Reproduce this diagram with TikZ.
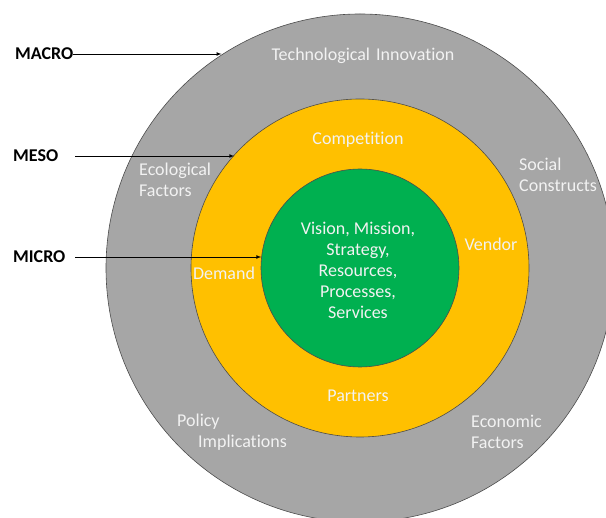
\documentclass[tikz,border=0pt]{standalone}
\usepackage{fontspec}
\setmainfont{Carlito}[Ligatures={NoCommon}]
\usetikzlibrary{shapes,arrows}
\usepackage{xcolor}
\definecolor{ringgray}{HTML}{A6A6A6}
\definecolor{ringgold}{HTML}{FFC000}
\definecolor{ringgreen}{HTML}{00B050}
\definecolor{softwhite}{HTML}{F2F2F2}

\begin{document}
\begin{tikzpicture}[x=1pt,y=-1pt,
					ring/.style={draw=black!70, line width=0.6pt, circle, inner sep=0pt},
					inlabel/.style={text=softwhite, font=\fontsize{18}{21}\selectfont, align=left, inner sep=0pt},
					level/.style={font=\fontsize{18}{21}\selectfont\bfseries, inner sep=0pt}]
    \useasboundingbox (0,0) rectangle (606,518);
    % Place rings
    \node [ring, fill=ringgray, minimum size=508pt] (macro) at (360,268){};
    \node [ring, fill=ringgold, minimum size=338pt] (meso) at (360,268){};
    \node [ring, fill=ringgreen, minimum size=198pt] (micro) at (360,268){};
    % Ring texts
    \node [inlabel] (techno) at (363,56){Technological~\hspace{2pt}Innovation};
    \node [inlabel, anchor=west] (ecolo) at (139,180){Ecological\\Factors};
    \node [inlabel, anchor=west] (social) at (519,175){Social\\Constructs};
    \node [inlabel, anchor=west] (policy) at (177,432){Policy\\\hspace*{21pt}Implications};
    \node [inlabel, anchor=west] (econ) at (471,432){Economic\\Factors};
    \node [inlabel] (compet) at (358,140){Competition};
    \node [inlabel] (vendor) at (491,244){Vendor};
    \node [inlabel] (demand) at (224,273){Demand};
    \node [inlabel] (partner) at (358,396){Partners};
    \node [inlabel, align=center] (core) at (358,270){Vision, Mission,\\Strategy,\\Resources,\\Processes,\\Services};
    % Level labels
    \node [level, anchor=west] (lmacro) at (15,54){MACRO};
    \node [level, anchor=west] (lmeso) at (13,156){MESO};
    \node [level, anchor=west] (lmicro) at (13,257){MICRO};
    \coordinate (smeso) at (75,156);
    \coordinate (smicro) at (75,257);
    % Draw arrows
    \draw[line width=0.7pt,-latex] (lmacro) -- (lmacro -| macro.123);
    \draw[line width=0.7pt,-latex] (smeso) -- (smeso -| meso.138);
    \draw[line width=0.7pt,-latex] (smicro) -- (smicro -| micro.174);
\end{tikzpicture}
\end{document}
